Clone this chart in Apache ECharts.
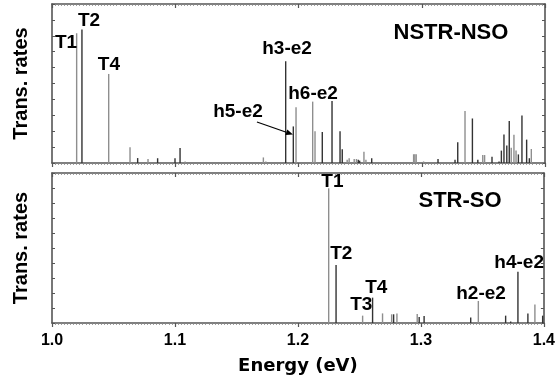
<!DOCTYPE html>
<html><head><meta charset="utf-8">
<script src="https://cdn.jsdelivr.net/npm/echarts@6/dist/echarts.min.js"></script>
<style>html,body{margin:0;padding:0;background:#fff}#c{width:558px;height:378px}</style>
</head><body><div id="c"></div>
<script>
// ---------- data ----------
const xTickLabels = ['1.0', '1.1', '1.2', '1.3', '1.4'];
const panelTitles = ['NSTR-NSO', 'STR-SO'];
const yAxisName = 'Trans. rates';
const xAxisName = 'Energy (eV)';

// Top panel (NSTR-NSO): energies (eV), relative rates, shade (d = dark, g = grey)
const topEnergy = [1.0200,1.0243,1.0460,1.0633,1.0695,1.0779,1.0857,1.0998,1.1039,1.1080,1.1715,1.1735,1.1896,1.1958,1.1980,1.2115,1.2134,1.2193,1.2272,1.2337,1.2355,1.2395,1.2411,1.2452,1.2470,1.2485,1.2496,1.2531,1.2547,1.2594,1.2934,1.2944,1.2955,1.3015,1.3132,1.3270,1.3292,1.3351,1.3411,1.3455,1.3495,1.3510,1.3570,1.3627,1.3646,1.3667,1.3690,1.3710,1.3726,1.3748,1.3765,1.3784,1.3813,1.3851,1.3873,1.3889];
const topRate   = [81.6,84,56,9.9,3.1,2.5,3.0,3.0,9.4,1.0,3.5,1.0,64,23,35,38.6,20,19.5,39,20,8.6,2,3,2.5,2.5,2,1.5,7,2,3,5.5,5.5,5.5,1,2.5,2,13,32.7,28,2,5,5,4,1,7.8,18,11,26.4,9.6,17.8,7.8,5.4,29.8,14.7,3,8.8];
const topShade  = ['g','d','g','g','d','g','d','d','d','g','g','g','d','d','g','g','g','d','d','d','d','g','g','g','g','d','d','g','g','d','g','g','g','g','d','d','d','g','d','d','g','g','d','d','d','d','d','d','g','g','g','d','d','d','d','g'];

// Bottom panel (STR-SO)
const botEnergy = [1.2250,1.2310,1.2526,1.2607,1.2688,1.2762,1.2778,1.2805,1.2970,1.2986,1.3026,1.3405,1.3467,1.3689,1.3730,1.3789,1.3870,1.3927,1.3990];
const botRate   = [89.8,38.7,4.9,16.9,6.4,5.8,5.8,6.4,6,4,4.7,3.6,14.7,4.9,1,34.2,6.4,12.4,4.9];
const botShade  = ['g','d','g','d','g','g','d','g','g','d','d','d','g','d','d','d','d','g','d'];

// Peak labels: text and anchor (energy, rate) for the label centre
const topLabelText = ['T1','T2','T4','h3-e2','h6-e2','h5-e2'];
const topLabelE    = [1.0114,1.0300,1.0462,1.1907,1.2118,1.1509];
const topLabelV    = [75.5,89.3,61.6,71.7,43.4,32.1];
const botLabelText = ['T1','T2','T4','T3','h2-e2','h4-e2'];
const botLabelE    = [1.2280,1.2353,1.2637,1.2515,1.3489,1.3799];
const botLabelV    = [94,46,23.3,12,19.3,40];
const titleE = [1.3237, 1.3318];
const titleV = [81.8, 81.3];
// arrow from h5-e2 label to its line
const arrowFrom = [1.1663, 25.8];
const arrowTo   = [1.1955, 17.9];

// ---------- chart ----------
const DARK = '#333333', GREY = '#8e8e8e', AXIS = '#555555';
const FONT = '"Liberation Sans", Arial, sans-serif';

function split(E, R, S, s) {
  const out = [];
  for (let i = 0; i < E.length; i++) if (S[i] === s) out.push([E[i], R[i]]);
  return out;
}
function stick(params, api) {
  const a = api.coord([api.value(0), 0]);
  const b = api.coord([api.value(0), api.value(1)]);
  return { type: 'line', shape: { x1: a[0], y1: a[1], x2: b[0], y2: b[1] },
           style: { stroke: api.visual('color'), lineWidth: 1.4 } };
}
function xAxisDef(grid, pos, showLabel) {
  return {
    type: 'value', gridIndex: grid, position: pos, min: 1.0, max: 1.4, interval: 0.1,
    axisLine: { show: true, onZero: false, lineStyle: { color: AXIS, width: 1.6 } },
    axisTick: { show: true, inside: pos === 'top', length: 4, lineStyle: { color: AXIS, width: 1.2 } },
    minorTick: { show: true, splitNumber: 40, length: 2, lineStyle: { color: '#888', width: 0.8 } },
    splitLine: { show: false },
    axisLabel: { show: showLabel, margin: 10, fontFamily: FONT, fontWeight: 'bold', fontSize: 16, color: '#000',
      formatter: v => xTickLabels[Math.round((v - 1.0) / 0.1)] || '' },
    name: showLabel ? xAxisName : '', nameLocation: 'middle', nameGap: 34,
    nameTextStyle: { fontFamily: '"DejaVu Sans", sans-serif', fontWeight: 'bold', fontSize: 18, color: '#000' }
  };
}
function yAxisDef(grid, pos) {
  return {
    type: 'value', gridIndex: grid, position: pos, min: 0, max: 100, interval: 10,
    axisLine: { show: true, lineStyle: { color: AXIS, width: 1.6 } },
    axisTick: { show: true, inside: true, length: 3, lineStyle: { color: AXIS, width: 1 } },
    splitLine: { show: false }, axisLabel: { show: false },
    name: pos === 'left' ? yAxisName : '', nameLocation: 'middle', nameGap: 21, nameRotate: 90,
    nameTextStyle: { fontFamily: FONT, fontWeight: 'bold', fontSize: 20, color: '#000' }
  };
}

const chart = echarts.init(document.getElementById('c'), null, { renderer: 'canvas' });
chart.setOption({
  animation: false,
  backgroundColor: '#fff',
  grid: [
    { left: 52, right: 13, top: 4, height: 159 },
    { left: 52, right: 13, top: 173, height: 150 }
  ],
  xAxis: [xAxisDef(0, 'bottom', false), xAxisDef(0, 'top', false), xAxisDef(1, 'bottom', true), xAxisDef(1, 'top', false)],
  yAxis: [yAxisDef(0, 'left'), yAxisDef(0, 'right'), yAxisDef(1, 'left'), yAxisDef(1, 'right')],
  series: [
    { type: 'custom', xAxisIndex: 0, yAxisIndex: 0, renderItem: stick, itemStyle: { color: GREY }, data: split(topEnergy, topRate, topShade, 'g') },
    { type: 'custom', xAxisIndex: 0, yAxisIndex: 0, renderItem: stick, itemStyle: { color: DARK }, data: split(topEnergy, topRate, topShade, 'd') },
    { type: 'custom', xAxisIndex: 2, yAxisIndex: 2, renderItem: stick, itemStyle: { color: GREY }, data: split(botEnergy, botRate, botShade, 'g') },
    { type: 'custom', xAxisIndex: 2, yAxisIndex: 2, renderItem: stick, itemStyle: { color: DARK }, data: split(botEnergy, botRate, botShade, 'd') }
  ]
});

// ---------- annotations positioned through the axes ----------
const g = [];
function addText(grid, text, e, v, size) {
  const p = chart.convertToPixel({ gridIndex: grid }, [e, v]);
  g.push({ type: 'text', x: p[0], y: p[1], z: 10,
    style: { text: text, fill: '#000', font: 'bold ' + size + 'px ' + FONT,
             textAlign: 'center', textVerticalAlign: 'middle', align: 'center', verticalAlign: 'middle' } });
}
topLabelText.forEach((t, i) => addText(0, t, topLabelE[i], topLabelV[i], 19));
botLabelText.forEach((t, i) => addText(1, t, botLabelE[i], botLabelV[i], 19));
addText(0, panelTitles[0], titleE[0], titleV[0], 22);
addText(1, panelTitles[1], titleE[1], titleV[1], 22);
const a0 = chart.convertToPixel({ gridIndex: 0 }, arrowFrom);
const a1 = chart.convertToPixel({ gridIndex: 0 }, arrowTo);
const ang = Math.atan2(a1[1] - a0[1], a1[0] - a0[0]);
const hl = 7, hw = 3;
const bx = a1[0] - hl * Math.cos(ang), by = a1[1] - hl * Math.sin(ang);
g.push({ type: 'line', z: 10, shape: { x1: a0[0], y1: a0[1], x2: bx, y2: by }, style: { stroke: '#000', lineWidth: 1.2 } });
g.push({ type: 'polygon', z: 10, shape: { points: [
  [a1[0], a1[1]],
  [bx + hw * Math.sin(ang), by - hw * Math.cos(ang)],
  [bx - hw * Math.sin(ang), by + hw * Math.cos(ang)]
] }, style: { fill: '#000' } });
chart.setOption({ graphic: g });
</script>
</body></html>
